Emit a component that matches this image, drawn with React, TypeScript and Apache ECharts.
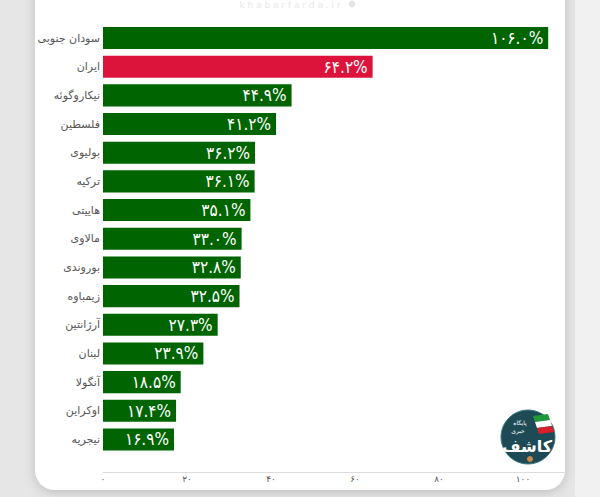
import React, { useEffect, useRef } from "react";
import * as echarts from "echarts";

const categories = [
  "سودان جنوبی",
  "ایران",
  "نیکاروگوئه",
  "فلسطین",
  "بولیوی",
  "ترکیه",
  "هاییتی",
  "مالاوی",
  "بوروندی",
  "زیمباوه",
  "آرژانتین",
  "لبنان",
  "آنگولا",
  "اوکراین",
  "نیجریه",
];
const values = [106.0, 64.2, 44.9, 41.2, 36.2, 36.1, 35.1, 33.0, 32.8, 32.5, 27.3, 23.9, 18.5, 17.4, 16.9];
const highlighted = "ایران";
const axisMax = 110;
const axisStep = 20;

const GREEN = "#006400";
const RED = "#DC143C";
const FONT = "DejaVu Sans";
const LABEL_FONT = "'DejaVu Sans Condensed', 'DejaVu Sans'";

const fa = (s: string) => s.replace(/[0-9]/g, (d) => "۰۱۲۳۴۵۶۷۸۹"[Number(d)]);

export default function App() {
  const ref = useRef<HTMLDivElement>(null);
  useEffect(() => {
    document.body.style.margin = "0";
    const chart = echarts.init(ref.current!, null, { renderer: "svg" });
    chart.setOption({
      animation: false,
      backgroundColor: "#e6e6e6",
      graphic: [
        {
          type: "rect",
          z: 0,
          shape: { x: 35, y: -30, width: 530, height: 520, r: 20 },
          style: { fill: "#ffffff", shadowBlur: 12, shadowColor: "rgba(0,0,0,0.18)", shadowOffsetY: 2 },
        },
        {
          type: "rect",
          z: 0,
          shape: { x: 575, y: 0, width: 25, height: 497 },
          style: { fill: "#f1f1f1" },
        },
        {
          type: "text",
          z: 1,
          x: 290,
          y: 5,
          style: {
            text: "k h a b a r f a r d a . i r",
            fill: "#e8e8e8",
            font: "9px " + FONT,
            align: "center",
            verticalAlign: "middle",
          },
        },
        {
          type: "circle",
          z: 1,
          shape: { cx: 352, cy: 4, r: 3.5 },
          style: { fill: "#e4e4e4" },
        },
        {
          type: "group",
          z: 10,
          children: [
            {
              type: "circle",
              shape: { cx: 528, cy: 437, r: 27 },
              style: { fill: "#1d4a54", stroke: "#3a7a80", lineWidth: 1 },
            },
            {
              type: "polygon",
              shape: { points: [[533, 416], [548, 414], [550, 420], [535, 422]] },
              style: { fill: "#1e9a3a" },
            },
            {
              type: "polygon",
              shape: { points: [[535, 422], [550, 420], [552, 426], [537, 428]] },
              style: { fill: "#ffffff" },
            },
            {
              type: "polygon",
              shape: { points: [[537, 428], [552, 426], [554, 432], [539, 434]] },
              style: { fill: "#d81e2b" },
            },
            {
              type: "text",
              x: 520,
              y: 422,
              style: { text: "پایگاه", fill: "#ffffff", font: "6px " + FONT, align: "center", verticalAlign: "middle" },
            },
            {
              type: "text",
              x: 518,
              y: 430,
              style: { text: "خبری", fill: "#ffffff", font: "6px " + FONT, align: "center", verticalAlign: "middle" },
            },
            {
              type: "text",
              x: 527,
              y: 446,
              style: { text: "کاشف", fill: "#ffffff", font: "bold 16px " + FONT, align: "center", verticalAlign: "middle" },
            },
            {
              type: "circle",
              shape: { cx: 530, cy: 459, r: 3 },
              style: { fill: "#c98a4a" },
            },
          ],
        },
      ],
      grid: { left: 103, right: 35, top: 23.7, bottom: 43.2, containLabel: false },
      xAxis: {
        type: "value",
        min: 0,
        max: axisMax,
        interval: axisStep,
        offset: 18,
        axisLine: { show: true, lineStyle: { color: "#dcdcdc", width: 1 } },
        axisTick: { show: false },
        splitLine: { show: false },
        axisLabel: {
          margin: 3,
          color: "#555",
          fontSize: 9,
          fontFamily: FONT,
          formatter: (v: number) => (v % axisStep === 0 ? fa(String(v)) : ""),
        },
      },
      yAxis: {
        type: "category",
        data: categories,
        inverse: true,
        axisLine: { show: false },
        axisTick: { show: false },
        axisLabel: { margin: 3, color: "#555", fontSize: 11, fontFamily: FONT },
      },
      series: [
        {
          type: "bar",
          z: 3,
          barCategoryGap: "23%",
          data: values.map((v, i) => ({
            value: v,
            itemStyle: { color: categories[i] === highlighted ? RED : GREEN },
          })),
          label: {
            show: true,
            position: "insideRight",
            distance: 5,
            color: "#ffffff",
            fontSize: 17,
            fontWeight: "normal",
            fontFamily: LABEL_FONT,
            formatter: (p: any) => fa(p.value.toFixed(1)) + "%",
          },
        },
      ],
    });
    return () => chart.dispose();
  }, []);
  return <div ref={ref} style={{ position: "fixed", left: 0, top: 0, width: 600, height: 497 }} />;
}
